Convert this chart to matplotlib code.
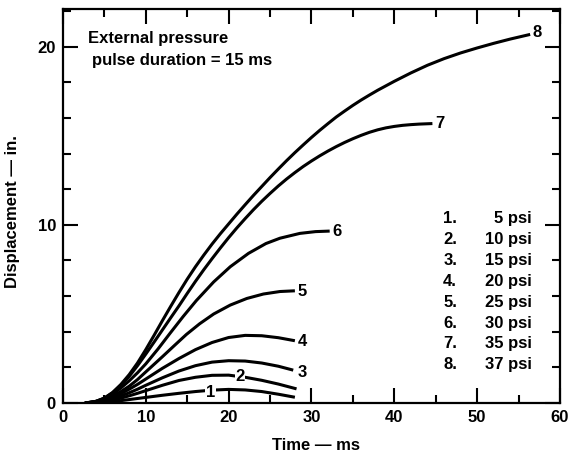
import matplotlib
matplotlib.use("Agg")
import matplotlib.pyplot as plt
from matplotlib.ticker import MultipleLocator

plt.rcParams['font.family'] = ['Liberation Sans', 'DejaVu Sans']
plt.rcParams['font.weight'] = 'bold'

# time (ms) / displacement (in.)
t1 = [2.7, 4, 5, 6, 7, 8, 9, 10, 12, 14, 16, 18, 20, 22, 24, 26, 28]
d1 = [0, 0.02, 0.05, 0.09, 0.14, 0.2, 0.26, 0.32, 0.44, 0.55, 0.65, 0.73, 0.77, 0.74, 0.65, 0.5, 0.33]
t2 = [2.7, 4, 5, 6, 7, 8, 9, 10, 12, 14, 16, 18, 20, 22, 24, 26, 28.2]
d2 = [0, 0.03, 0.09, 0.17, 0.28, 0.41, 0.55, 0.7, 1.0, 1.27, 1.45, 1.56, 1.57, 1.45, 1.28, 1.07, 0.8]
t3 = [2.7, 4, 5, 6, 7, 8, 9, 10, 12, 14, 16, 18, 20, 22, 24, 26, 27.8]
d3 = [0, 0.05, 0.13, 0.25, 0.4, 0.58, 0.78, 1.0, 1.42, 1.8, 2.1, 2.3, 2.38, 2.36, 2.25, 2.07, 1.85]
t4 = [2.7, 4, 5, 6, 7, 8, 9, 10, 12, 14, 16, 18, 20, 22, 24, 26, 28]
d4 = [0, 0.07, 0.17, 0.33, 0.53, 0.78, 1.05, 1.35, 1.95, 2.5, 3.0, 3.4, 3.68, 3.8, 3.78, 3.67, 3.5]
t5 = [2.7, 4, 5, 6, 7, 8, 9, 10, 12, 13.5, 14.9, 16.5, 18.2, 20.2, 22.2, 24.2, 26.2, 28]
d5 = [0, 0.08, 0.2, 0.4, 0.65, 0.95, 1.32, 1.75, 2.6, 3.25, 3.85, 4.45, 5.0, 5.5, 5.87, 6.12, 6.26, 6.3]
t6 = [2.7, 4, 5, 6, 7, 8, 9, 10, 11.5, 12.9, 14.5, 16.1, 18.2, 20.2, 22.4, 24.5, 26.2, 28.6, 30.5, 32.2]
d6 = [0, 0.1, 0.25, 0.5, 0.85, 1.25, 1.7, 2.2, 3.05, 3.9, 4.85, 5.75, 6.8, 7.65, 8.4, 8.95, 9.25, 9.52, 9.62, 9.65]
t7 = [2.6, 4, 5, 6, 7, 8, 9, 10, 11, 12, 13, 14, 15, 16, 17, 18, 19, 20, 21, 22, 23, 24,
      25, 26, 27, 28, 29, 30, 31, 32, 33, 34, 35, 36, 37, 38, 39, 40, 41, 42, 43, 44.6]
d7 = [0, 0.1, 0.28, 0.58, 1.0, 1.5, 2.1, 2.75, 3.42, 4.1, 4.78, 5.45, 6.15, 6.83, 7.48, 8.1,
      8.7, 9.28, 9.83, 10.35, 10.85, 11.32, 11.76, 12.18, 12.57, 12.93, 13.27, 13.58, 13.87,
      14.14, 14.39, 14.62, 14.83, 15.02, 15.19, 15.33, 15.44, 15.52, 15.58, 15.62, 15.65, 15.68]
t8 = [2.6, 4, 5, 6, 7, 8, 9, 10, 11, 12, 13, 14, 15, 16, 17, 18, 19, 20, 21, 22, 23, 24,
      25, 26, 27, 28, 29, 30, 31, 32, 33, 34, 35, 36, 37, 38, 39, 40, 42, 44, 46, 48, 50,
      52, 54, 56.4]
d8 = [0, 0.1, 0.28, 0.6, 1.05, 1.6, 2.25, 3.0, 3.8, 4.62, 5.42, 6.2, 6.95, 7.65, 8.3, 8.92,
      9.5, 10.05, 10.6, 11.13, 11.65, 12.15, 12.65, 13.13, 13.6, 14.05, 14.48, 14.9, 15.3,
      15.68, 16.05, 16.38, 16.7, 17.0, 17.28, 17.55, 17.8, 18.05, 18.52, 18.95, 19.32,
      19.64, 19.92, 20.18, 20.42, 20.68]

curves = [(t1, d1), (t2, d2), (t3, d3), (t4, d4), (t5, d5), (t6, d6), (t7, d7), (t8, d8)]
curve_ids = ['1', '2', '3', '4', '5', '6', '7', '8']
pressures = [5, 10, 15, 20, 25, 30, 35, 37]  # psi

# where each curve number sits (data coords)
label_pos = [(17.8, 0.62), (21.4, 1.5), (28.9, 1.69), (28.9, 3.46),
             (28.9, 6.27), (33.1, 9.63), (45.5, 15.7), (57.3, 20.8)]

fig = plt.figure(figsize=(5.72, 4.55), dpi=100)
ax = fig.add_axes([0.110, 0.114, 0.869, 0.866])

for (t, d) in curves:
    ax.plot(t, d, color='black', lw=2.2, solid_capstyle='butt', solid_joinstyle='round', zorder=2)

for i, (lx, ly) in enumerate(label_pos):
    if i < 2:
        # these two sit on the line, with a gap around them
        ax.text(lx, ly, curve_ids[i], ha='center', va='center', fontsize=12,
                bbox=dict(facecolor='white', edgecolor='none', pad=0.5), zorder=3)
    else:
        ax.text(lx, ly, curve_ids[i], ha='center', va='center', fontsize=12, zorder=3)

ax.text(3.0, 20.45, 'External pressure', ha='left', va='center', fontsize=12)
ax.text(3.5, 19.2, 'pulse duration = 15 ms', ha='left', va='center', fontsize=12)

# pressure key
for i, p in enumerate(pressures):
    yy = 10.34 - i * 1.17
    ax.text(45.9, yy, curve_ids[i] + '.', ha='left', va='center', fontsize=12)
    ax.text(56.6, yy, '%d psi' % p, ha='right', va='center', fontsize=12)

ax.set_xlim(0, 60)
ax.set_ylim(0, 22.1)
ax.xaxis.set_major_locator(MultipleLocator(10))
ax.xaxis.set_minor_locator(MultipleLocator(5))
ax.yaxis.set_major_locator(MultipleLocator(10))
ax.yaxis.set_minor_locator(MultipleLocator(2))
ax.tick_params(which='both', direction='in', top=True, right=True, width=1.5,
               labelsize=12, color='black')
ax.tick_params(which='major', length=11, pad=5)
ax.tick_params(which='minor', length=6)
for sp in ax.spines.values():
    sp.set_linewidth(1.6)

fig.text(13 / 572, 1 - 212 / 455, 'Displacement \u2014 in.', rotation=90,
         ha='center', va='center', fontsize=12)
fig.text(316 / 572, 1 - 446 / 455, 'Time \u2014 ms', ha='center', va='center', fontsize=12)

fig.savefig('out.png', dpi=100)
